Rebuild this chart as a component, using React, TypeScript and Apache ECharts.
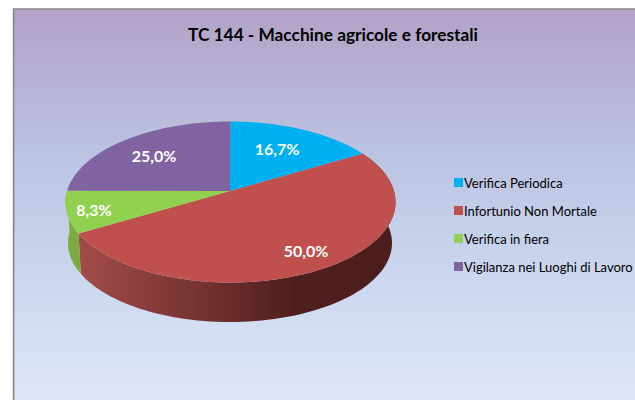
import React, { useEffect, useRef } from "react";
import * as echarts from "echarts";

const titleText = "TC 144 - Macchine agricole e forestali";
const categories = ["Verifica Periodica", "Infortunio Non Mortale", "Verifica in fiera", "Vigilanza nei Luoghi di Lavoro"];
const values = [16.7, 50.0, 8.3, 25.0];
const labels = ["16,7%", "50,0%", "8,3%", "25,0%"];
const colors = ["#00b0f0", "#c0504d", "#92d050", "#8064a2"];

// layout of the 3-D pie
const VX = 230, VY = 191;            // apex of the slices
const EX = 230.5, EY = 202, RX = 165, RY = 80.5; // top ellipse
const BX = 230, BY = 243, BRX = 162, BRY = 79;   // bottom rim ellipse
const labelShift = [[47, -43], [76, 59], [-136, 18], [-76, -36]];

const total = values.reduce((a, b) => a + b, 0);
const warp = (t: number) => t - (8 * Math.PI / 180) * Math.sin(t);
const rim = (t: number, cx: number, cy: number, rx: number, ry: number) => {
  const p = warp(t);
  return [cx + rx * Math.sin(p), cy - ry * Math.cos(p)];
};

const sideFills: Record<number, any> = {
  1: new echarts.graphic.LinearGradient(0, 0, 1, 0, [
    { offset: 0, color: "#a34c49" },
    { offset: 0.68, color: "#4f1f1e" },
    { offset: 1, color: "#4a1e1c" },
  ]),
  2: "#7dab42",
};

function sliceRender(idx: number, start: number, end: number) {
  return () => {
    const a0 = (start / total) * 2 * Math.PI;
    const a1 = (end / total) * 2 * Math.PI;
    const top: number[][] = [[VX, VY]];
    const N = 90;
    for (let i = 0; i <= N; i++) top.push(rim(a0 + ((a1 - a0) * i) / N, EX, EY, RX, RY));
    const children: any[] = [];
    if (sideFills[idx]) {
      const upper: number[][] = [];
      const lower: number[][] = [];
      for (let i = 0; i <= N; i++) {
        const t = a0 + ((a1 - a0) * i) / N;
        upper.push(rim(t, EX, EY, RX, RY));
        lower.push(rim(t, BX, BY, BRX, BRY));
      }
      children.push({
        type: "polygon",
        shape: { points: upper.concat(lower.reverse()) },
        style: { fill: sideFills[idx] },
      });
    }
    children.push({ type: "polygon", shape: { points: top }, style: { fill: colors[idx] } });
    children.push({
      type: "text",
      style: {
        x: VX + labelShift[idx][0],
        y: VY + labelShift[idx][1],
        text: labels[idx],
        fill: "#ffffff",
        font: "bold 16px Lato, 'Open Sans', sans-serif",
        align: "center",
        verticalAlign: "middle",
      },
    });
    return { type: "group", children };
  };
}

export default function App() {
  const ref = useRef<HTMLDivElement>(null);
  useEffect(() => {
    document.body.style.margin = "0";
    const chart = echarts.init(ref.current!, undefined, { renderer: "svg" });
    let acc = 0;
    const series = categories.map((name, i) => {
      const s = acc;
      acc += values[i];
      return {
        type: "custom",
        name,
        coordinateSystem: "none",
        silent: true,
        itemStyle: { color: colors[i] },
        data: [[s, acc]],
        renderItem: sliceRender(i, s, acc),
      };
    });
    chart.setOption({
      animation: false,
      backgroundColor: "#ffffff",
      graphic: [
        {
          type: "rect",
          z: -10,
          shape: { x: 13.6, y: 9, width: 640, height: 400 },
          style: {
            stroke: "#868686",
            lineWidth: 1.6,
            fill: new echarts.graphic.LinearGradient(0, 0, 0, 1, [
              { offset: 0, color: "#b3a2c7" },
              { offset: 0.38, color: "#bcc5e3" },
              { offset: 0.7, color: "#ccd9f0" },
              { offset: 1, color: "#e1e8f6" },
            ]),
          },
        },
      ],
      title: {
        text: titleText,
        left: 183,
        top: 21,
        textStyle: { fontFamily: "Lato, sans-serif", fontWeight: "bold", fontSize: 17.3, color: "#000000" },
      },
      legend: {
        orient: "vertical",
        left: 449,
        top: 171,
        itemWidth: 9,
        itemHeight: 9,
        itemGap: 15,
        icon: "rect",
        textStyle: { fontFamily: "Lato, sans-serif", fontSize: 13, color: "#000000", padding: [0, 0, 0, -4] },
        data: categories,
      },
      series,
    });
    return () => chart.dispose();
  }, []);
  return <div ref={ref} style={{ width: 635, height: 400 }} />;
}
